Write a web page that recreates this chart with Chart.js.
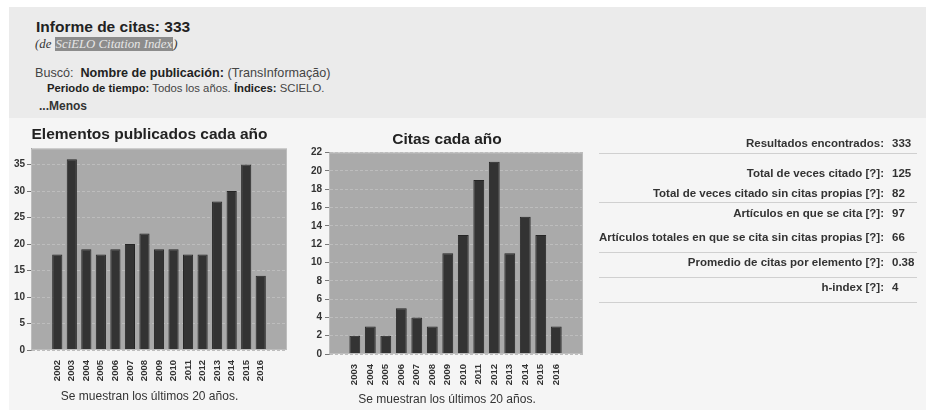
<!doctype html>
<html lang="es">
<head>
  <meta charset="utf-8">
  <title>Informe de citas</title>
  <script src="https://cdn.jsdelivr.net/npm/chart.js@4.4.1/dist/chart.umd.min.js"></script>
  <style>
    body { margin: 0; background: #fff; font-family: "Liberation Sans", Arial, sans-serif; color: #222; }
    #page { position: relative; width: 926px; height: 410px; overflow: hidden; }
    #cabecera { position: absolute; left: 9px; top: 7px; right: 0; height: 111px; background: #ebebeb; }
    #cuerpo { position: absolute; left: 9px; top: 118px; right: 0; bottom: 0; background: #f5f5f5; }
    .t { position: absolute; white-space: nowrap; }
    .marca { background: #8c8c8c; color: #e6e6e6; padding: 0 1px; }
    .b { font-weight: bold; color: #222; }
    canvas { position: absolute; top: 120px; }
    .fila { position: absolute; left: 540px; width: 344px; text-align: right; font: bold 11.5px "Liberation Sans", Arial, sans-serif; color: #333; line-height: 13px; white-space: nowrap; }
    .valor { position: absolute; left: 892px; font: bold 11.5px "Liberation Sans", Arial, sans-serif; color: #333; line-height: 13px; }
    .linea { position: absolute; left: 599px; width: 318px; height: 1px; background: #d0d0d0; }
  </style>
</head>
<body>
<div id="page">
  <div id="cabecera"></div>
  <div id="cuerpo"></div>

  <div class="t" style="left:36px;top:18px;font-size:15.5px;font-weight:bold;">Informe de citas: 333</div>
  <div class="t" style="left:35px;top:37px;font:italic 12.8px 'Liberation Serif', serif;color:#333;">(de <span class="marca">SciELO Citation Index</span>)</div>
  <div class="t" style="left:35px;top:66px;font-size:12.6px;color:#444;">Buscó:&nbsp;&nbsp;<span class="b">Nombre de publicación:</span> (TransInformação)</div>
  <div class="t" style="left:47px;top:82px;font-size:11.3px;color:#444;"><span class="b">Periodo de tiempo:</span> Todos los años. <span class="b">Índices:</span> SCIELO.</div>
  <div class="t" style="left:39px;top:99px;font-size:12px;font-weight:bold;color:#333;">...Menos</div>

  <canvas id="publicados" width="295" height="290" style="left:0px"></canvas>
  <canvas id="citas" width="300" height="290" style="left:295px"></canvas>

  <div id="tabla"></div>
</div>

<script>
// datos
var anosPub = [2002, 2003, 2004, 2005, 2006, 2007, 2008, 2009, 2010, 2011, 2012, 2013, 2014, 2015, 2016];
var publicados = [18, 36, 19, 18, 19, 20, 22, 19, 19, 18, 18, 28, 30, 35, 14];
var ticksPub = [0, 5, 10, 15, 20, 25, 30, 35];

var anosCit = [2003, 2004, 2005, 2006, 2007, 2008, 2009, 2010, 2011, 2012, 2013, 2014, 2015, 2016];
var citas = [2, 3, 2, 5, 4, 3, 11, 13, 19, 21, 11, 15, 13, 3];
var ticksCit = [0, 2, 4, 6, 8, 10, 12, 14, 16, 18, 20, 22];

var etiquetas = ["Resultados encontrados:", "Total de veces citado [?]:", "Total de veces citado sin citas propias [?]:",
  "Artículos en que se cita [?]:", "Artículos totales en que se cita sin citas propias [?]:",
  "Promedio de citas por elemento [?]:", "h-index [?]:"];
var valores = ["333", "125", "82", "97", "66", "0.38", "4"];

// tabla de la derecha
var filasY = [143, 173, 193, 213, 237, 262, 287];
var lineasY = [153, 202, 252, 277, 302];
var tabla = document.getElementById("tabla");
for (var i = 0; i < etiquetas.length; i++) {
  var f = document.createElement("div");
  f.className = "fila";
  f.style.top = (filasY[i] - 6.5) + "px";
  f.textContent = etiquetas[i];
  tabla.appendChild(f);
  var v = document.createElement("div");
  v.className = "valor";
  v.style.top = (filasY[i] - 6.5) + "px";
  v.textContent = valores[i];
  tabla.appendChild(v);
}
for (var j = 0; j < lineasY.length; j++) {
  var l = document.createElement("div");
  l.className = "linea";
  l.style.top = lineasY[j] + "px";
  tabla.appendChild(l);
}

const fondo = {
  id: 'fondo',
  beforeDraw(chart) {
    const a = chart.chartArea, ctx = chart.ctx;
    ctx.save();
    ctx.fillStyle = '#aaaaaa';
    ctx.fillRect(a.left, a.top, a.right - a.left, a.bottom - a.top);
    ctx.restore();
  },
  afterDatasetsDraw(chart) {
    const a = chart.chartArea, ctx = chart.ctx;
    ctx.save();
    ctx.strokeStyle = '#bdbdbd';
    ctx.lineWidth = 1;
    ctx.strokeRect(a.left + 0.5, a.top + 0.5, a.right - a.left - 1, a.bottom - a.top - 1);
    ctx.restore();
  }
};

const fuente = "'Liberation Sans', Arial, sans-serif";

function grafico(id, anos, vals, yTicks, o) {
  return new Chart(document.getElementById(id), {
    type: 'bar',
    data: {
      datasets: [{
        data: anos.map((a, i) => ({x: a, y: vals[i]})),
        backgroundColor: '#333333',
        borderColor: '#262626',
        borderWidth: 1,
        barPercentage: 0.875,
        categoryPercentage: 0.8
      }]
    },
    plugins: [fondo],
    options: {
      responsive: false,
      animation: false,
      layout: {padding: {left: o.padL, right: o.padR, top: 0, bottom: 0}},
      scales: {
        x: {
          type: 'linear', min: o.xMin, max: o.xMax,
          afterBuildTicks: s => { s.ticks = anos.map(v => ({value: v})); },
          afterFit: s => { s.height = o.xH; },
          grid: {display: false},
          border: {display: false},
          ticks: {minRotation: 90, maxRotation: 90, autoSkip: false, padding: 2, color: '#333',
                  font: {family: fuente, size: 9.5, weight: 'bold'}, callback: v => String(v)}
        },
        y: {
          min: 0, max: o.yMax,
          afterBuildTicks: s => { s.ticks = yTicks.map(v => ({value: v})); },
          afterFit: s => { s.width = o.yW; },
          grid: {color: '#bdbdbd', tickColor: '#777', tickLength: 4, tickBorderDash: []},
          border: {display: true, color: '#999', dash: [3, 2]},
          ticks: {padding: o.yPad, color: '#333', font: {family: fuente, size: 10, weight: 'bold'}}
        }
      },
      plugins: {
        legend: {display: false},
        tooltip: {enabled: false},
        title: {display: true, text: o.titulo, color: '#222', font: {family: fuente, size: 15.5, weight: 'bold'},
                padding: {top: o.tTop, bottom: o.tBot}},
        subtitle: {display: true, position: 'bottom', text: 'Se muestran los últimos 20 años.', color: '#333',
                   font: {family: fuente, size: 12, weight: 'normal'}, padding: {top: 0, bottom: o.sBot}}
      }
    }
  });
}

grafico('publicados', anosPub, publicados, ticksPub, {
  titulo: 'Elementos publicados cada año', padL: 12, padR: 8, yW: 19, yPad: 2, xH: 39.6,
  xMin: 2000.78, xMax: 2017.22, yMax: 38, tTop: 5, tBot: 5, sBot: 6
});
grafico('citas', anosCit, citas, ticksCit, {
  titulo: 'Citas cada año', padL: 16, padR: 12, yW: 18, yPad: 3, xH: 38.6,
  xMin: 2001.92, xMax: 2017.14, yMax: 22, tTop: 10, tBot: 4, sBot: 3
});
</script>
</body>
</html>
